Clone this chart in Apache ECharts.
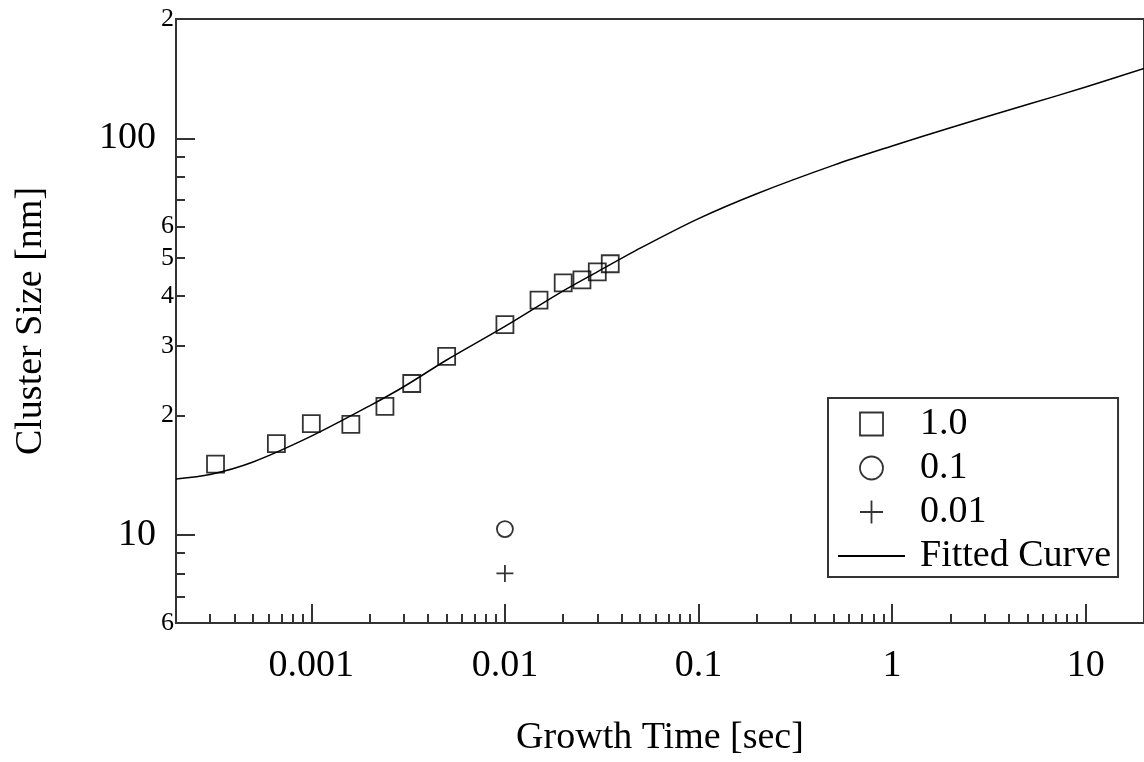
<!DOCTYPE html>
<html>
<head>
<meta charset="utf-8">
<script src="https://cdn.jsdelivr.net/npm/echarts@6/dist/echarts.min.js"></script>
<style>
  html, body { margin: 0; padding: 0; background: #fff; }
  #chart { width: 1144px; height: 762px; }
</style>
</head>
<body>
<div id="chart"></div>
<script>
// fitted curve
const fitTime = [0.0002, 0.0003, 0.0005, 0.001, 0.002, 0.003, 0.005, 0.01, 0.02, 0.03, 0.05, 0.1, 0.2, 0.5, 1, 2, 5, 10, 20];
const fitSize = [13.85, 14.21, 15.28, 17.75, 21.17, 23.65, 27.62, 33.57, 41.25, 46.07, 52.87, 62.77, 72.54, 85.63, 95.68, 106.4, 121.7, 134.7, 150.1];

// measured points, one array pair per series
const time10 = [0.00032, 0.00066, 0.001, 0.0016, 0.0024, 0.0033, 0.005, 0.01, 0.015, 0.02, 0.025, 0.03, 0.035];
const size10 = [15.1, 17.0, 19.1, 19.0, 21.1, 24.1, 28.2, 33.9, 39.1, 43.2, 44.0, 46.1, 48.3];
const time01 = [0.01];
const size01 = [10.35];
const time001 = [0.01];
const size001 = [8.0];

// ticks and labels
const xMajorTicks = [0.001, 0.01, 0.1, 1, 10];
const xMinorTicks = [
  0.0003, 0.0004, 0.0005, 0.0006, 0.0007, 0.0008, 0.0009,
  0.002, 0.003, 0.004, 0.005, 0.006, 0.007, 0.008, 0.009,
  0.02, 0.03, 0.04, 0.05, 0.06, 0.07, 0.08, 0.09,
  0.2, 0.3, 0.4, 0.5, 0.6, 0.7, 0.8, 0.9,
  2, 3, 4, 5, 6, 7, 8, 9,
];
const yMajorTicks = [10, 100];
const yMinorTicks = [7, 8, 9, 20, 30, 40, 50, 60, 70, 80, 90];
const yMinorLabels = [6, 20, 30, 40, 50, 60, 200];

const FONT = 'Liberation Serif';
const INK = '#000';
const AXIS = '#333';

const zip = (xs, ys) => xs.map((x, i) => [x, ys[i]]);

const squarePath = 'path://M0,0L10,0L10,10L0,10Z';
const circlePath = 'path://M10,5A5,5,0,1,1,0,5A5,5,0,1,1,10,5Z';
const plusPath = 'path://M0,5L10,5M5,0L5,10';

const hollow = { color: 'rgba(0,0,0,0)', borderColor: INK, borderWidth: 1.8 };

const chart = echarts.init(document.getElementById('chart'));

const baseX = { type: 'log', logBase: 10, min: 0.0002, max: 20, gridIndex: 0, position: 'bottom', splitLine: { show: false } };
const baseY = { type: 'log', logBase: 10, min: 6, max: 200, gridIndex: 0, position: 'left', splitLine: { show: false } };

chart.setOption({
  animation: false,
  grid: {
    left: 176, right: -1, top: 19, bottom: 139,
    show: true, borderColor: AXIS, borderWidth: 2, backgroundColor: 'transparent',
  },
  xAxis: [
    {
      ...baseX,
      name: 'Growth Time [sec]',
      nameLocation: 'middle',
      nameGap: 96,
      nameTextStyle: { fontFamily: FONT, fontSize: 38, color: INK },
      axisLine: { lineStyle: { color: AXIS, width: 2 } },
      axisTick: { inside: true, length: 19, customValues: xMajorTicks, lineStyle: { color: AXIS, width: 2 } },
      axisLabel: {
        customValues: xMajorTicks, margin: 24,
        fontFamily: FONT, fontSize: 38, color: INK,
        formatter: (v) => String(+Number(v).toPrecision(3)),
      },
    },
    {
      ...baseX,
      axisLine: { show: false },
      axisTick: { inside: true, length: 9, customValues: xMinorTicks, lineStyle: { color: AXIS, width: 2 } },
      axisLabel: { show: false },
    },
  ],
  yAxis: [
    {
      ...baseY,
      name: 'Cluster Size [nm]',
      nameLocation: 'middle',
      nameGap: 126,
      nameTextStyle: { fontFamily: FONT, fontSize: 38, color: INK },
      axisLine: { show: true, lineStyle: { color: AXIS, width: 2 } },
      axisTick: { show: true, inside: true, length: 19, customValues: yMajorTicks, lineStyle: { color: AXIS, width: 2 } },
      axisLabel: {
        customValues: yMajorTicks, margin: 20,
        fontFamily: FONT, fontSize: 38, color: INK,
        formatter: (v) => String(Math.round(v)),
      },
    },
    {
      ...baseY,
      axisLine: { show: false },
      axisTick: { show: true, inside: true, length: 9, customValues: yMinorTicks, lineStyle: { color: AXIS, width: 2 } },
      axisLabel: {
        customValues: yMinorLabels, margin: 2,
        fontFamily: FONT, fontSize: 26, color: INK,
        formatter: (v) => String(Math.round(v)).charAt(0),
      },
    },
  ],
  legend: {
    orient: 'vertical',
    left: 828, top: 398,
    padding: [7, 7, 2, 9],
    borderColor: AXIS, borderWidth: 2,
    itemWidth: 67, itemHeight: 23, itemGap: 6,
    symbolKeepAspect: true,
    textStyle: { fontFamily: FONT, fontSize: 38, color: INK, lineHeight: 36, padding: [0, 0, 0, 10] },
    data: [
      { name: '1.0', icon: squarePath, itemStyle: hollow },
      { name: '0.1', icon: circlePath, itemStyle: hollow },
      { name: '0.01', icon: plusPath, itemStyle: hollow },
      { name: 'Fitted Curve', itemStyle: { color: 'rgba(0,0,0,0)', borderWidth: 0, opacity: 0 } },
    ],
  },
  series: [
    {
      name: 'Fitted Curve',
      type: 'line',
      xAxisIndex: 0, yAxisIndex: 0,
      data: zip(fitTime, fitSize),
      symbol: 'none',
      smooth: 0.3,
      lineStyle: { color: INK, width: 1.5 },
      itemStyle: { color: INK },
    },
    {
      name: '1.0',
      type: 'scatter',
      xAxisIndex: 0, yAxisIndex: 0,
      data: zip(time10, size10),
      symbol: squarePath, symbolSize: 17,
      itemStyle: hollow,
    },
    {
      name: '0.1',
      type: 'scatter',
      xAxisIndex: 0, yAxisIndex: 0,
      data: zip(time01, size01),
      symbol: circlePath, symbolSize: 16,
      itemStyle: hollow,
    },
    {
      name: '0.01',
      type: 'scatter',
      xAxisIndex: 0, yAxisIndex: 0,
      data: zip(time001, size001),
      symbol: plusPath, symbolSize: 17,
      itemStyle: hollow,
    },
  ],
});
</script>
</body>
</html>
